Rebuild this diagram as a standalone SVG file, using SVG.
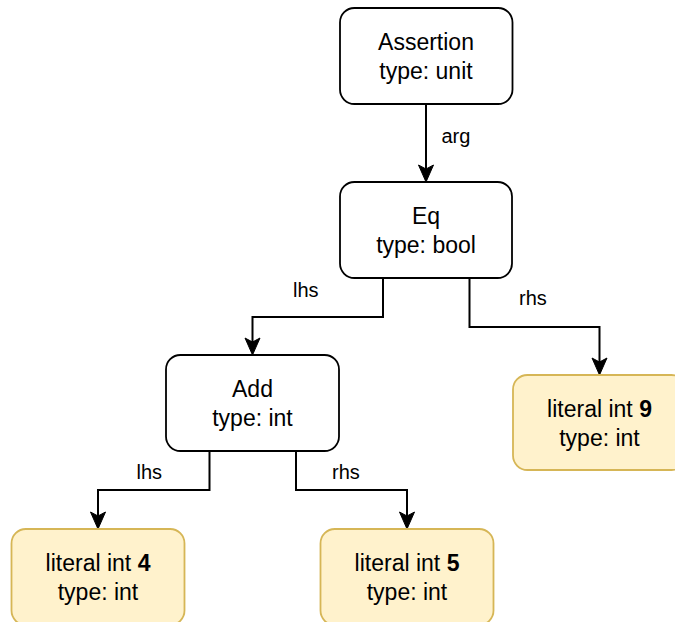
<svg xmlns="http://www.w3.org/2000/svg" width="675" height="622" viewBox="0 0 675 622">
  <style>
    .node { fill: #ffffff; stroke: #000000; stroke-width: 1.8; }
    .lit { fill: #fff2cc; stroke: #d6b656; stroke-width: 1.8; }
    .txt { font-family: "Liberation Sans", Arial, sans-serif; font-size: 23px; fill: #000000; text-anchor: middle; }
    .lbl { font-family: "Liberation Sans", Arial, sans-serif; font-size: 20px; fill: #000000; }
    .edge { fill: none; stroke: #000000; stroke-width: 2; }
    .b { font-weight: bold; }
  </style>
  <defs>
    <marker id="arrow" viewBox="-5 -9 20 18" markerWidth="20" markerHeight="18" refX="0" refY="0" orient="auto" markerUnits="userSpaceOnUse">
      <path d="M13,0 L-4,-7.5 L0,0 L-4,7.5 Z" fill="#000000" stroke="#000000" stroke-width="1"/>
    </marker>
  </defs>

  <rect width="675" height="622" fill="#ffffff"/>

  <!-- connectors -->
  <g id="edges">
    <path class="edge" d="M426,104 V169" marker-end="url(#arrow)"/>
    <path class="edge" d="M383,278 V317 H252.5 V342" marker-end="url(#arrow)"/>
    <path class="edge" d="M469.5,278 V327 H599.5 V362" marker-end="url(#arrow)"/>
    <path class="edge" d="M209.5,451 V490 H98 V516" marker-end="url(#arrow)"/>
    <path class="edge" d="M296,451 V490 H407 V516" marker-end="url(#arrow)"/>
    <text class="lbl" x="441.5" y="143">arg</text>
    <text class="lbl" x="293" y="297">lhs</text>
    <text class="lbl" x="519" y="305">rhs</text>
    <text class="lbl" x="136.5" y="479">lhs</text>
    <text class="lbl" x="332" y="479">rhs</text>
  </g>

  <g id="assertion">
    <rect class="node" x="340" y="8" width="172.5" height="96" rx="14.4" ry="14.4"/>
    <text class="txt" x="426" y="50">Assertion</text>
    <text class="txt" x="426" y="79">type: unit</text>
  </g>

  <g id="eq">
    <rect class="node" x="340" y="182" width="172" height="96" rx="14.4" ry="14.4"/>
    <text class="txt" x="426" y="224">Eq</text>
    <text class="txt" x="426" y="253">type: bool</text>
  </g>

  <g id="add">
    <rect class="node" x="166" y="355" width="173" height="96" rx="14.4" ry="14.4"/>
    <text class="txt" x="252.5" y="397">Add</text>
    <text class="txt" x="252.5" y="426">type: int</text>
  </g>

  <g id="lit9">
    <rect class="lit" x="513" y="375" width="173" height="95" rx="14.4" ry="14.4"/>
    <text class="txt" x="599.5" y="417">literal int <tspan class="b">9</tspan></text>
    <text class="txt" x="599.5" y="446">type: int</text>
  </g>

  <g id="lit4">
    <rect class="lit" x="11.5" y="529" width="173" height="96" rx="14.4" ry="14.4"/>
    <text class="txt" x="98" y="571">literal int <tspan class="b">4</tspan></text>
    <text class="txt" x="98" y="600">type: int</text>
  </g>

  <g id="lit5">
    <rect class="lit" x="320.5" y="529" width="173" height="96" rx="14.4" ry="14.4"/>
    <text class="txt" x="407" y="571">literal int <tspan class="b">5</tspan></text>
    <text class="txt" x="407" y="600">type: int</text>
  </g>
</svg>
